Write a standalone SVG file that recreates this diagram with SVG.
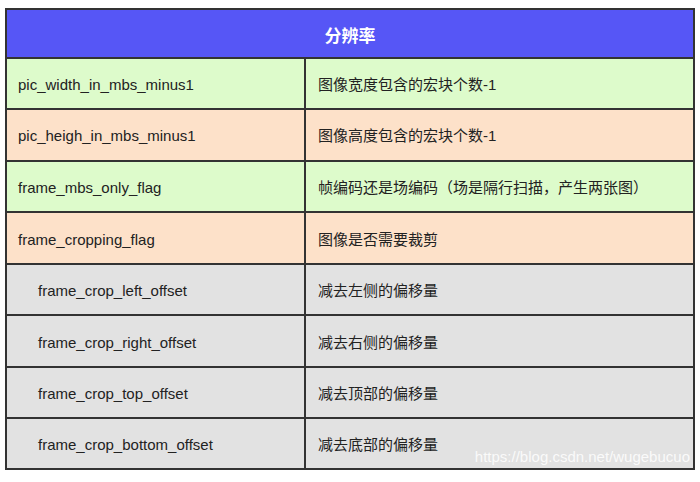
<svg xmlns="http://www.w3.org/2000/svg" width="700" height="482" viewBox="0 0 700 482">
<style>
.c{stroke:#333;stroke-width:2}
.g{fill:#ddfbcb}.o{fill:#fde1c9}.y{fill:#e2e2e2}
.t{font-family:"Liberation Sans","Noto Sans CJK SC",sans-serif;font-size:15px;fill:#222;dominant-baseline:central}
.h{font-family:"Noto Sans CJK SC",sans-serif;font-size:17px;fill:#fff;font-weight:bold;dominant-baseline:central;text-anchor:middle}
</style>
<rect width="700" height="482" fill="#fff"/>
<g id="header"><rect x="6" y="9" width="688" height="49" fill="#5656f6" class="c"/><text x="350" y="34" class="h">分辨率</text></g>
<g id="r1"><rect x="6" y="58" width="299" height="51" class="g c"/><rect x="305" y="58" width="389" height="51" class="g c"/><text x="18" y="84" class="t">pic_width_in_mbs_minus1</text><text x="318" y="84" class="t">图像宽度包含的宏块个数-1</text></g>
<g id="r2"><rect x="6" y="109" width="299" height="52" class="o c"/><rect x="305" y="109" width="389" height="52" class="o c"/><text x="18" y="135" class="t">pic_heigh_in_mbs_minus1</text><text x="318" y="135" class="t">图像高度包含的宏块个数-1</text></g>
<g id="r3"><rect x="6" y="161" width="299" height="51" class="g c"/><rect x="305" y="161" width="389" height="51" class="g c"/><text x="18" y="187" class="t">frame_mbs_only_flag</text><text x="318" y="187" class="t">帧编码还是场编码（场是隔行扫描，产生两张图）</text></g>
<g id="r4"><rect x="6" y="212" width="299" height="52" class="o c"/><rect x="305" y="212" width="389" height="52" class="o c"/><text x="18" y="239" class="t">frame_cropping_flag</text><text x="318" y="239" class="t">图像是否需要裁剪</text></g>
<g id="r5"><rect x="6" y="264" width="299" height="51" class="y c"/><rect x="305" y="264" width="389" height="51" class="y c"/><text x="38" y="290" class="t">frame_crop_left_offset</text><text x="318" y="290" class="t">减去左侧的偏移量</text></g>
<g id="r6"><rect x="6" y="315" width="299" height="52" class="y c"/><rect x="305" y="315" width="389" height="52" class="y c"/><text x="38" y="342" class="t">frame_crop_right_offset</text><text x="318" y="342" class="t">减去右侧的偏移量</text></g>
<g id="r7"><rect x="6" y="367" width="299" height="51" class="y c"/><rect x="305" y="367" width="389" height="51" class="y c"/><text x="38" y="393" class="t">frame_crop_top_offset</text><text x="318" y="393" class="t">减去顶部的偏移量</text></g>
<g id="r8"><rect x="6" y="418" width="299" height="51" class="y c"/><rect x="305" y="418" width="389" height="51" class="y c"/><text x="38" y="444" class="t">frame_crop_bottom_offset</text><text x="318" y="444" class="t">减去底部的偏移量</text></g>
<g id="connectors"/>
<text x="690" y="462" text-anchor="end" font-family="Liberation Sans,sans-serif" font-size="15" fill="#fff" fill-opacity="0.85">https://blog.csdn.net/wugebucuo</text>
</svg>
